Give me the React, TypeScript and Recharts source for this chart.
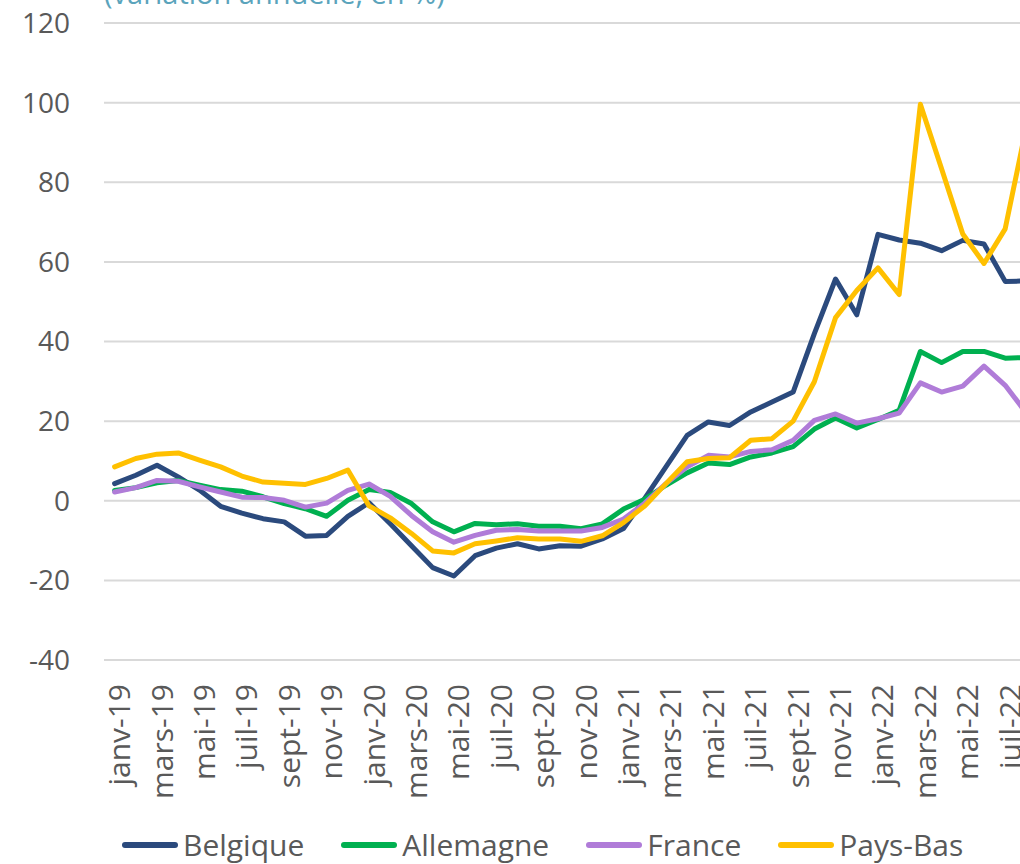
import React from 'react';
import { LineChart, Line, XAxis, YAxis, CartesianGrid, Legend } from 'recharts';

const monthNames = ['janv', 'févr', 'mars', 'avr', 'mai', 'juin', 'juil', 'août', 'sept', 'oct', 'nov', 'déc'];
const years = ['19', '20', '21', '22'];
const monthCount = 44; // janv-19 .. août-22

const belgique = [
  4.3, 6.4, 8.9, 6.0, 2.7, -1.4, -3.1, -4.5, -5.3, -8.9, -8.7, -3.9,
  -0.5, -5.8, -11.3, -16.8, -18.9, -13.8, -11.9, -10.8, -12.1, -11.3, -11.4, -9.6,
  -7.0, 0.6, 8.5, 16.4, 19.8, 18.9, 22.3, 24.8, 27.3, 42.0, 55.7, 46.7,
  66.9, 65.5, 64.7, 62.8, 65.4, 64.5, 55.1, 55.2,
];
const allemagne = [
  2.6, 3.3, 4.5, 5.1, 3.9, 2.8, 2.4, 1.0, -0.7, -2.0, -3.9, 0.1,
  2.8, 2.1, -0.7, -5.3, -7.8, -5.7, -6.0, -5.8, -6.4, -6.4, -7.0, -5.8,
  -2.1, 0.4, 3.9, 7.0, 9.5, 9.1, 11.0, 12.0, 13.6, 18.0, 20.8, 18.3,
  20.4, 22.7, 37.5, 34.7, 37.5, 37.5, 35.8, 36.0,
];
const france = [
  2.2, 3.3, 5.1, 4.9, 3.5, 2.2, 0.9, 0.8, 0.1, -1.6, -0.6, 2.6,
  4.2, 1.1, -3.7, -7.8, -10.4, -8.7, -7.4, -7.2, -7.6, -7.6, -7.6, -6.7,
  -4.6, -0.6, 4.3, 8.5, 11.4, 11.0, 12.4, 12.8, 15.2, 20.2, 21.8, 19.5,
  20.6, 22.0, 29.6, 27.3, 28.8, 33.8, 29.0, 22.0,
];
const paysBas = [
  8.5, 10.6, 11.7, 12.0, 10.2, 8.5, 6.2, 4.7, 4.4, 4.1, 5.6, 7.7,
  -1.3, -4.3, -8.2, -12.6, -13.1, -10.8, -10.1, -9.3, -9.6, -9.6, -10.2, -8.8,
  -5.5, -1.3, 4.3, 9.8, 10.6, 10.8, 15.2, 15.6, 20.0, 29.9, 46.0, 52.8,
  58.5, 51.8, 99.6, 83.4, 67.0, 59.6, 68.3, 94.0,
];

const yTicks = [-40, -20, 0, 20, 40, 60, 80, 100, 120];

const series = [
  { key: 'belgique', name: 'Belgique', color: '#2B4A7D', values: belgique },
  { key: 'allemagne', name: 'Allemagne', color: '#00B050', values: allemagne },
  { key: 'france', name: 'France', color: '#B07CD8', values: france },
  { key: 'paysBas', name: 'Pays-Bas', color: '#FFC000', values: paysBas },
];
const seriesOrder = series.map((s) => s.name);

const months = Array.from({ length: monthCount }, (_, i) =>
  `${monthNames[i % 12]}-${years[Math.floor(i / 12)]}`
);

const data = months.map((m, i) => {
  const row: Record<string, string | number> = { month: m };
  series.forEach((s) => {
    row[s.key] = s.values[i];
  });
  return row;
});

const FONT = '"Open Sans", "Noto Sans", sans-serif';
const TEXT = '#595959';

function MonthTick({ x, y, payload }: any) {
  return (
    <text
      x={x + 4}
      y={y}
      transform={`rotate(-90, ${x + 4}, ${y})`}
      textAnchor="end"
      dominantBaseline="central"
      fill={TEXT}
      fontSize={30}
      fontFamily={FONT}
    >
      {payload.value}
    </text>
  );
}

function LegendContent({ payload }: any) {
  const items = [...(payload || [])].sort(
    (a: any, b: any) => seriesOrder.indexOf(a.value) - seriesOrder.indexOf(b.value)
  );
  return (
    <div style={{ display: 'flex', alignItems: 'center', height: 38, fontFamily: FONT }}>
      {items.map((p: any) => (
        <div key={p.value} style={{ display: 'flex', alignItems: 'center', marginRight: 37 }}>
          <svg width={56} height={10} style={{ marginRight: 5 }}>
            <line x1={3} y1={5} x2={53} y2={5} stroke={p.color} strokeWidth={6} strokeLinecap="round" />
          </svg>
          <span style={{ fontSize: 30, color: TEXT, lineHeight: '38px' }}>{p.value}</span>
        </div>
      ))}
    </div>
  );
}

export default function App() {
  return (
    <div
      style={{
        position: 'absolute',
        left: 0,
        top: 0,
        width: 1020,
        height: 864,
        overflow: 'hidden',
        background: '#fff',
      }}
    >
      <div
        style={{
          position: 'absolute',
          left: 104,
          top: -22,
          fontFamily: FONT,
          fontSize: 29,
          lineHeight: '29px',
          color: '#5BA4BC',
          whiteSpace: 'nowrap',
        }}
      >
        (variation annuelle, en %)
      </div>
      <LineChart
        width={1037}
        height={864}
        data={data}
        margin={{ top: 23, right: 0, bottom: 44, left: 0 }}
      >
        <CartesianGrid vertical={false} stroke="#D9D9D9" strokeWidth={2} />
        <XAxis
          dataKey="month"
          interval={1}
          axisLine={false}
          tickLine={false}
          tickMargin={18}
          height={160}
          padding={{ left: 10.6, right: 10.6 }}
          tick={<MonthTick />}
        />
        <YAxis
          domain={[-40, 120]}
          ticks={yTicks}
          width={104}
          axisLine={false}
          tickLine={false}
          tickMargin={28}
          tick={{ fill: TEXT, fontSize: 28, fontFamily: FONT }}
        />
        <Legend
          layout="horizontal"
          align="center"
          verticalAlign="middle"
          itemSorter={(item: any) => seriesOrder.indexOf(item.value)}
          content={<LegendContent />}
          wrapperStyle={{ left: 122, top: 826, width: 900, height: 38 }}
        />
        {series.map((s) => (
          <Line
            key={s.key}
            type="linear"
            dataKey={s.key}
            name={s.name}
            stroke={s.color}
            strokeWidth={5}
            strokeLinejoin="round"
            strokeLinecap="round"
            dot={false}
            activeDot={false}
            isAnimationActive={false}
          />
        ))}
      </LineChart>
    </div>
  );
}
